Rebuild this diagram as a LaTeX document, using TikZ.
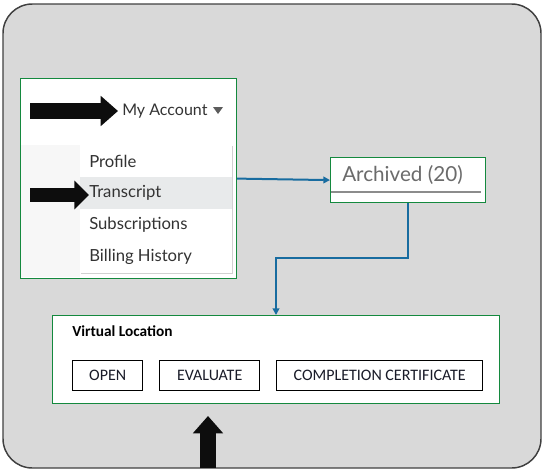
\documentclass[tikz,border=0pt]{standalone}
\usepackage{fontspec}
\setmainfont{Carlito}
\newfontfamily\menufont{Lato}
\usetikzlibrary{arrows.meta,positioning,calc}
\definecolor{framegray}{RGB}{217,217,217}
\definecolor{boxgreen}{RGB}{20,137,62}
\definecolor{linkblue}{RGB}{24,108,160}
\definecolor{menutext}{RGB}{51,51,51}
\definecolor{rowgray}{RGB}{232,234,235}
\definecolor{btntext}{RGB}{25,27,40}
\tikzset{
  greenbox/.style={draw=boxgreen,fill=white,line width=0.9pt,anchor=north west,inner sep=0pt},
  menuitem/.style={anchor=west,inner sep=0pt,text=menutext,font=\menufont\fontsize{12.5}{14}\selectfont},
  btnbox/.style={draw=black,line width=1pt,anchor=north west,minimum height=22.5pt,
    inner sep=0pt,text=btntext,font=\fontsize{12}{14}\selectfont},
  linkarrow/.style={-{Triangle[length=5pt,width=5pt]},line width=1.5pt,draw=linkblue},
  pointer/.style={line width=12pt,draw=black!95,-{Triangle[length=13pt,width=22pt]}},
}

\begin{document}
\begin{tikzpicture}[x=0.75pt,y=-0.75pt]
  \useasboundingbox (0,0) rectangle (544,471);
  \draw[fill=framegray,draw=black!75,line width=1.1pt,rounded corners=22pt] (3,4) rectangle (541,468);

  % account menu
  \node[greenbox,minimum width=162pt,minimum height=150pt] (acct) at (20,78) {};
  \fill[black!3] (20.6,145) rectangle (80,277.4);
  \fill[black!18] (81,146) rectangle (233,274);
  \node[fill=white,anchor=north west,inner sep=0pt,minimum width=114pt,minimum height=96pt] (menu) at (80,145) {};
  \fill[rowgray] (80,177) rectangle (232,209);
  \node[menuitem,font=\menufont\fontsize{12}{14}\selectfont] (myacct) at (122,111) {My Account};
  \fill[menutext!80] (213,107) -- (223,107) -- (218,114) -- cycle;
  \node[menuitem] (profile) at (89,161) {Profile};
  \node[menuitem] (transcript) at (89,193) {Transcript};
  \node[menuitem] (subs) at (89,225) {Subscriptions};
  \node[menuitem] (billing) at (89,257) {Billing History};

  % archived tab
  \node[greenbox,minimum width=116.25pt,minimum height=33.75pt] (arch) at (330,157) {};
  \node[anchor=west,inner sep=0pt,text=black!58,font=\menufont\fontsize{15.5}{17}\selectfont] (archtxt) at (342,175) {Archived (20)};
  \draw[black!45,line width=1.8pt] (331,192) -- (481,192);

  % virtual location
  \node[greenbox,minimum width=335.25pt,minimum height=66pt] (virt) at (52,315) {};
  \node[anchor=west,inner sep=0pt,font=\bfseries\fontsize{11.5}{13}\selectfont] (virttitle) at (72,331) {Virtual Location};
  \node[btnbox,minimum width=52.5pt] (open) at (72,360) {OPEN};
  \node[btnbox,minimum width=75pt] (eval) at (159,360) {EVALUATE};
  \node[btnbox,minimum width=154.5pt] (cert) at (276,360) {COMPLETION CERTIFICATE};

  % connectors
  \coordinate (bend) at (276,258);
  \draw[linkarrow] (acct.east) -- (arch.west);
  \draw[linkarrow] (arch.south) |- (bend) -- (bend |- virt.north);

  % black pointers
  \coordinate (p1s) at (30,111);
  \coordinate (p1e) at (118,111);
  \coordinate (p2s) at (30,195);
  \coordinate (p2e) at (89,195);
  \coordinate (p3s) at (208,468);
  \coordinate (p3e) at (208,416);
  \draw[pointer] (p1s) -- (p1e);
  \draw[pointer,line width=10.5pt,-{Triangle[length=11pt,width=21pt]}] (p2s) -- (p2e);
  \draw[pointer] (p3s) -- (p3e);
\end{tikzpicture}
\end{document}
